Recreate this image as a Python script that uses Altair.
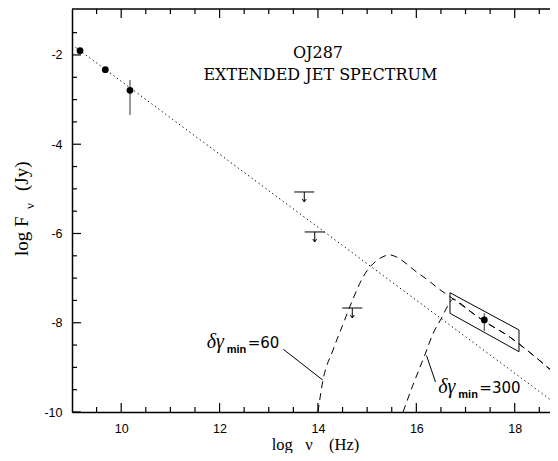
import altair as alt
import pandas as pd

W, H = 486, 403

# ---- data ----
det_x = [9.163, 9.677, 10.179, 17.382]
det_y = [-1.903, -2.329, -2.791, -7.938]

err_x = [10.179, 17.382]
err_lo = [-3.345, -8.185]
err_hi = [-2.560, -7.788]

ul_x = [13.722, 13.934, 14.698]
ul_y = [-5.070, -5.966, -7.670]

pl_x = [9.0, 18.88]
pl_y = [-1.77, -9.85]

box_x = [16.684, 16.684, 18.087, 18.087, 16.684]
box_y = [-7.327, -7.788, -8.649, -8.162, -7.327]

a_x = [14.0, 14.1, 14.3, 14.5, 14.7, 14.92, 15.05, 15.18, 15.32, 15.46, 15.6, 15.73,
       16.0, 16.23, 16.47, 16.78, 17.09, 17.4, 17.9, 18.3, 18.88]
a_y = [-10.0, -9.3, -8.63, -8.06, -7.5, -6.97, -6.76, -6.62, -6.52, -6.48, -6.53, -6.62,
       -6.86, -7.04, -7.25, -7.49, -7.74, -7.98, -8.32, -8.66, -9.2]

b_x = [15.73, 15.93, 16.17, 16.34, 16.51, 16.64, 16.75, 16.85, 17.09, 17.4, 17.9, 18.3, 18.88]
b_y = [-10.0, -9.4, -8.73, -8.24, -7.9, -7.62, -7.47, -7.53, -7.74, -7.98, -8.32, -8.66, -9.2]

lab_x = [11.738, 16.447]
lab_y = [-8.555, -9.574]
lab_txt = ["=60", "=300"]

lead_x = [13.296, 16.390]
lead_y = [-8.595, -9.328]
lead_x2 = [14.097, 16.207]
lead_y2 = [-9.283, -8.734]

title_txt = ["OJ287", "EXTENDED JET SPECTRUM"]
title_x = [14.0, 14.05]
title_y = [-2.07, -2.56]

x_major = [10, 12, 14, 16, 18]
x_minor = [9.5, 10.5, 11, 11.5, 12.5, 13, 13.5, 14.5, 15, 15.5, 16.5, 17, 17.5, 18.5]
y_major = [-10, -8, -6, -4, -2]
y_minor = [-9.5, -9, -8.5, -7.5, -7, -6.5, -5.5, -5, -4.5, -3.5, -3, -2.5, -1.5]

# ---- tables ----
det = pd.DataFrame({"x": det_x, "y": det_y})
err = pd.DataFrame({"x": err_x, "lo": err_lo, "hi": err_hi})
ul = pd.DataFrame({"x": ul_x, "y": ul_y})
pl = pd.DataFrame({"x": pl_x, "y": pl_y})
box = pd.DataFrame({"x": box_x, "y": box_y, "i": list(range(len(box_x)))})
ca = pd.DataFrame({"x": a_x, "y": a_y})
cb = pd.DataFrame({"x": b_x, "y": b_y})
lab = pd.DataFrame({"x": lab_x, "y": lab_y, "t": lab_txt})
lead = pd.DataFrame({"x": lead_x, "y": lead_y, "x2": lead_x2, "y2": lead_y2})
ttl = pd.DataFrame({"x": title_x, "y": title_y, "t": title_txt})
xmaj = pd.DataFrame({"x": x_major})
xmin = pd.DataFrame({"x": x_minor})
ymaj = pd.DataFrame({"y": y_major})
ymin = pd.DataFrame({"y": y_minor})
one = pd.DataFrame({"k": [0]})

xs = alt.Scale(domain=[9, 18.88], nice=False, zero=False)
ys = alt.Scale(domain=[-10, -0.97], nice=False, zero=False)

x_axis = alt.Axis(values=x_major, title="log\u00a0\u00a0\u00a0ν\u00a0\u00a0\u00a0\u00a0(Hz)",
                  ticks=False, tickSize=0, grid=False, domain=True,
                  domainColor="black", domainWidth=1.5,
                  labelFont="Liberation Sans", labelFontSize=12.5, labelColor="black",
                  labelPadding=10, labelExpr="'' + datum.value",
                  titleFont="Liberation Serif", titleFontSize=16.5, titleFontWeight="normal",
                  titleColor="black", titleY=37, titleBaseline="alphabetic")
y_axis = alt.Axis(values=y_major, title=None,
                  ticks=False, tickSize=0, grid=False, domain=True,
                  domainColor="black", domainWidth=1.5,
                  labelFont="Liberation Sans", labelFontSize=12.5, labelColor="black",
                  labelPadding=10, labelExpr="'' + datum.value")


def X(f="x"):
    return alt.X(f"{f}:Q", scale=xs, axis=x_axis)


def Y(f="y"):
    return alt.Y(f"{f}:Q", scale=ys, axis=y_axis)


layers = []

# dotted power law
layers.append(alt.Chart(pl).mark_line(color="black", strokeWidth=1, strokeDash=[1.3, 3])
              .encode(x=X(), y=Y()))
# dashed model curves
for d in (ca, cb):
    layers.append(alt.Chart(d).mark_line(color="black", strokeWidth=1, strokeDash=[7, 5],
                                         interpolate="monotone")
                  .encode(x=X(), y=Y()))
# bow-tie box
layers.append(alt.Chart(box).mark_line(color="black", strokeWidth=1)
              .encode(x=X(), y=Y(), order=alt.Order("i:Q")))
# error bars
layers.append(alt.Chart(err).mark_rule(color="#555555", strokeWidth=1.2)
              .encode(x=X(), y=Y("lo"), y2=alt.Y2("hi:Q")))
# detections
layers.append(alt.Chart(det).mark_circle(size=46, color="black", opacity=1)
              .encode(x=X(), y=Y()))
# upper limits (bar + arrow)
layers.append(alt.Chart(ul).mark_point(shape="M-4,0L4,0M0,0L0,4M-0.8,2.8L0,4L0.8,2.8",
                                       size=25, filled=False, color="black",
                                       strokeWidth=1, opacity=1)
              .encode(x=X(), y=Y()))
# leader lines
layers.append(alt.Chart(lead).mark_rule(color="black", strokeWidth=1)
              .encode(x=X(), y=Y(), x2=alt.X2("x2:Q"), y2=alt.Y2("y2:Q")))
# curve labels
layers.append(alt.Chart(lab).mark_text(text="δγ", align="left", baseline="alphabetic",
                                       font="Liberation Serif", fontStyle="italic",
                                       fontSize=20, color="black")
              .encode(x=X(), y=Y()))
layers.append(alt.Chart(lab).mark_text(text="min", align="left", baseline="alphabetic",
                                       font="Liberation Sans", fontWeight="bold",
                                       fontSize=11, color="black", dx=20, dy=5)
              .encode(x=X(), y=Y()))
layers.append(alt.Chart(lab).mark_text(align="left", baseline="alphabetic",
                                       font="DejaVu Sans", fontSize=15, color="black", dx=41)
              .encode(x=X(), y=Y(), text="t:N"))
# title
layers.append(alt.Chart(ttl).mark_text(align="center", baseline="alphabetic",
                                       font="DejaVu Serif", fontSize=16, color="black")
              .encode(x=X(), y=Y(), text="t:N"))
# inward ticks
layers.append(alt.Chart(xmaj).mark_rule(color="black", strokeWidth=1.2)
              .encode(x=X(), y=alt.value(H), y2=alt.value(H - 9)))
layers.append(alt.Chart(xmin).mark_rule(color="black", strokeWidth=1.2)
              .encode(x=X(), y=alt.value(H), y2=alt.value(H - 5)))
layers.append(alt.Chart(xmaj).mark_rule(color="black", strokeWidth=1.2)
              .encode(x=X(), y=alt.value(0), y2=alt.value(9)))
layers.append(alt.Chart(xmin).mark_rule(color="black", strokeWidth=1.2)
              .encode(x=X(), y=alt.value(0), y2=alt.value(5)))
layers.append(alt.Chart(ymaj).mark_rule(color="black", strokeWidth=1.2)
              .encode(y=Y(), x=alt.value(0), x2=alt.value(9)))
layers.append(alt.Chart(ymin).mark_rule(color="black", strokeWidth=1.2)
              .encode(y=Y(), x=alt.value(0), x2=alt.value(5)))
# top frame line
layers.append(alt.Chart(one).mark_rule(color="black", strokeWidth=1.5)
              .encode(x=alt.value(0), x2=alt.value(W), y=alt.value(0)))
# y title pieces (rotated)
layers.append(alt.Chart(one).mark_text(text="log F", angle=270, align="left",
                                       baseline="alphabetic", font="Liberation Serif",
                                       fontSize=19, color="black")
              .encode(x=alt.value(-44), y=alt.value(247)))
layers.append(alt.Chart(one).mark_text(text="ν", angle=270, align="left",
                                       baseline="alphabetic", font="Liberation Serif",
                                       fontSize=13, color="black")
              .encode(x=alt.value(-38), y=alt.value(200)))
layers.append(alt.Chart(one).mark_text(text="(Jy)", angle=270, align="left",
                                       baseline="alphabetic", font="Liberation Serif",
                                       fontSize=19, color="black")
              .encode(x=alt.value(-44), y=alt.value(182)))

chart = (alt.layer(*layers)
         .properties(width=W, height=H,
                     padding={"left": 64, "top": 1, "right": -8, "bottom": 41},
                     autosize=alt.AutoSizeParams(type="none"),
                     background="white")
         .configure_view(stroke=None))

chart.save("out.html", embed_options={"renderer": "svg", "actions": False})
